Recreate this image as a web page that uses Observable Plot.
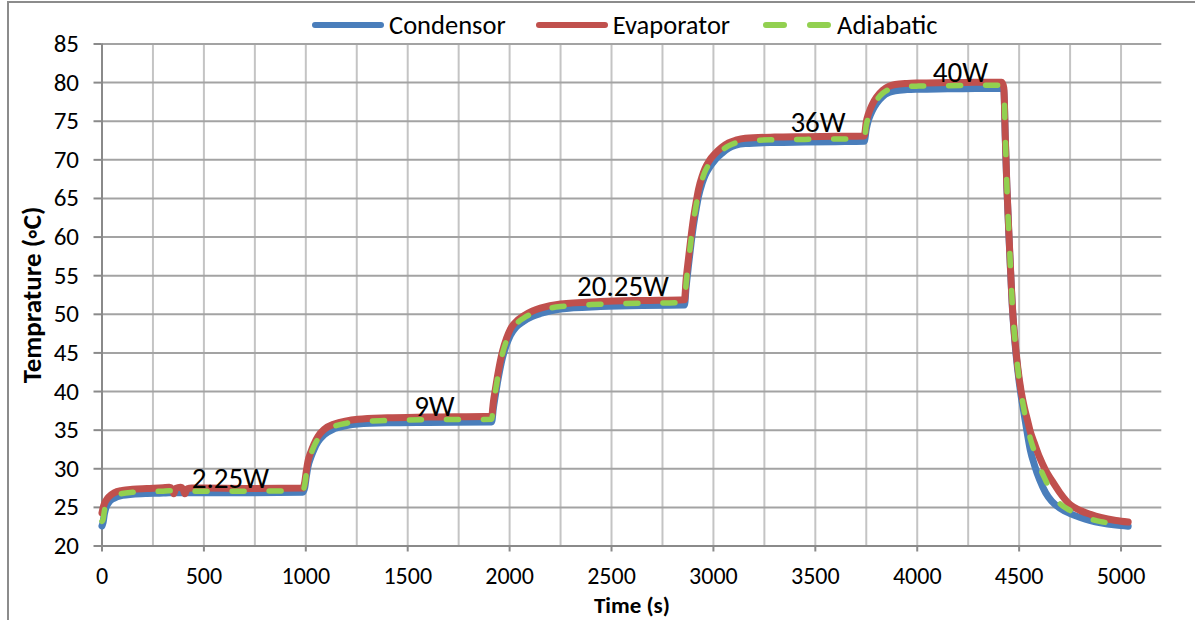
<!DOCTYPE html>
<html><head><meta charset="utf-8">
<script src="https://cdn.jsdelivr.net/npm/d3@7"></script>
<script src="https://cdn.jsdelivr.net/npm/@observablehq/plot@0.6"></script>
<style>
html,body{margin:0;padding:0;background:#fff;width:1195px;height:620px;overflow:hidden;font-family:Carlito,Lato,sans-serif;}
#frame{position:absolute;left:7px;top:1px;width:1300px;height:700px;border:2px solid #8c8c8c;box-sizing:border-box;}
#legend{position:absolute;left:312px;top:12px;height:26px;display:flex;align-items:center;font-size:26.5px;color:#000;white-space:nowrap;}
#legend .item{display:flex;align-items:center;margin-right:30px;}
#legend svg{margin-right:5px;}
#chart{position:absolute;left:0;top:38px;}
</style></head><body>
<div id="frame"></div>
<div id="legend"></div>
<div id="chart"></div>
<script>
// ---- data ----
const seriesNames = ["Condensor", "Evaporator", "Adiabatic"];
const seriesColors = ["#4a7ebb", "#c0504d", "#92d050"];

const time = [
  0, 5, 12, 20, 35, 60, 100, 150, 220, 300, 330, 345, 352, 362, 385, 398, 406, 418, 440, 500, 700, 985,
  995, 1002, 1010, 1025, 1040, 1060, 1090, 1140, 1200, 1255, 1400, 1600, 1912,
  1920, 1930, 1940, 1965, 1985, 2004, 2030, 2068, 2110, 2151, 2250, 2445, 2650, 2858,
  2866, 2878, 2890, 2902, 2915, 2927, 2945, 2959, 2980, 3008, 3040, 3074, 3110, 3156, 3300, 3450, 3600, 3740,
  3750, 3760, 3770, 3780, 3800, 3830, 3860, 3892, 3950, 4008, 4150, 4287, 4415,
  4425, 4432, 4440, 4452, 4468, 4480, 4493, 4510, 4525, 4540, 4555, 4575, 4600, 4630, 4660, 4700, 4750, 4800, 4850, 4900, 4975, 5035
];
const condensor = [
  22.6, 23.0, 24.2, 25.0, 25.7, 26.2, 26.55, 26.7, 26.8, 26.85, 26.9, 26.9, 26.9, 26.9, 26.9, 26.9, 26.9, 26.9, 26.9, 26.9, 26.9, 26.95,
  27.6, 28.9, 30.2, 31.5, 32.5, 33.5, 34.4, 35.2, 35.6, 35.8, 35.95, 36.0, 36.05,
  37.8, 39.5, 41.1, 44.4, 46.1, 47.3, 48.3, 49.1, 49.7, 50.1, 50.7, 51.0, 51.15, 51.2,
  53.5, 56.4, 59.1, 61.5, 63.6, 65.3, 67.0, 68.0, 69.0, 70.0, 70.8, 71.5, 71.9, 72.1, 72.25, 72.3, 72.35, 72.4,
  74.0, 75.1, 75.8, 76.4, 77.3, 78.2, 78.7, 78.95, 79.1, 79.15, 79.2, 79.25, 79.25,
  79.0, 72.8, 66.3, 59.0, 50.4, 46.2, 42.8, 39.4, 37.0, 34.6, 32.4, 30.5, 28.6, 26.9, 25.8, 24.9, 24.2, 23.7, 23.3, 23.0, 22.7, 22.55
];
const evaporator = [
  24.3, 24.9, 25.5, 25.9, 26.4, 26.9, 27.2, 27.35, 27.45, 27.55, 27.6, 27.35, 26.75, 27.45, 27.6, 27.35, 26.75, 27.4, 27.5, 27.5, 27.45, 27.5,
  28.3, 29.6, 30.9, 32.2, 33.2, 34.2, 35.1, 35.8, 36.2, 36.4, 36.6, 36.7, 36.8,
  38.6, 40.3, 41.9, 45.2, 46.9, 48.1, 49.0, 49.8, 50.4, 50.8, 51.35, 51.65, 51.8, 51.9,
  54.5, 57.3, 60.0, 62.4, 64.5, 66.2, 67.9, 68.9, 69.9, 70.8, 71.6, 72.2, 72.55, 72.8, 72.95, 73.0, 73.05, 73.1,
  74.9, 75.9, 76.6, 77.2, 78.1, 79.0, 79.5, 79.75, 79.9, 79.95, 80.0, 80.05, 80.05,
  79.3, 73.0, 66.5, 59.2, 50.6, 46.5, 43.2, 40.0, 38.0, 36.4, 34.8, 33.3, 31.5, 29.8, 28.5, 26.9, 25.35, 24.6, 24.1, 23.7, 23.3, 23.1
];
const adiabatic = [
  23.2, 23.4, 24.6, 25.3, 26.0, 26.5, 26.8, 26.95, 27.05, 27.1, 27.15, 27.15, 27.15, 27.15, 27.2, 27.2, 27.15, 27.15, 27.1, 27.1, 27.1, 27.15,
  28.0, 29.3, 30.6, 31.9, 32.9, 33.9, 34.8, 35.5, 35.9, 36.1, 36.25, 36.35, 36.4,
  38.3, 40.0, 41.6, 44.9, 46.6, 47.8, 48.7, 49.5, 50.1, 50.5, 51.0, 51.3, 51.45, 51.5,
  54.0, 56.9, 59.6, 62.0, 64.1, 65.8, 67.5, 68.5, 69.5, 70.4, 71.2, 71.8, 72.2, 72.45, 72.6, 72.65, 72.7, 72.75,
  74.5, 75.5, 76.2, 76.8, 77.7, 78.6, 79.1, 79.35, 79.5, 79.55, 79.6, 79.65, 79.65,
  79.2, 73.0, 66.5, 59.2, 50.6, 46.5, 43.1, 39.8, 37.5, 35.6, 33.9, 32.2, 30.3, 28.5, 26.9, 25.5, 24.6, 23.95, 23.5, 23.15, 22.95, 22.9
];

const powerLabels = ["2.25W", "9W", "20.25W", "36W", "40W"];
const labelTime = [630, 1631, 2556, 3513, 4212];
const labelTemp = [28.7, 38.0, 53.6, 74.8, 81.3];

const xTicks = [0, 500, 1000, 1500, 2000, 2500, 3000, 3500, 4000, 4500, 5000];
const xGrid = [250, 500, 750, 1000, 1250, 1500, 1750, 2000, 2250, 2500, 2750, 3000, 3250, 3500, 3750, 4000, 4250, 4500, 4750, 5000];
const yTicks = [20, 25, 30, 35, 40, 45, 50, 55, 60, 65, 70, 75, 80, 85];
const xTitle = "Time (s)";
const yTitle = "Temprature (\u25E6C)";

// ---- tables ----
const valueSets = [condensor, evaporator, adiabatic];
const seriesData = valueSets.map((vals) => time.map((t, i) => ({t, v: vals[i]})));
const labels = powerLabels.map((text, i) => ({text, t: labelTime[i], v: labelTemp[i]}));

// ---- legend ----
const legend = document.getElementById("legend");
seriesNames.forEach((name, i) => {
  const item = document.createElement("div");
  item.className = "item";
  const dashed = i === 2;
  item.innerHTML = `<svg width="72" height="26"><line x1="${dashed ? 6 : 3}" x2="${dashed ? 68 : 69}" y1="13" y2="13" stroke="${seriesColors[i]}" stroke-width="6" stroke-linecap="round" ${dashed ? 'stroke-dasharray="18,26"' : ""}/></svg><span>${name}</span>`;
  legend.appendChild(item);
});

// ---- chart ----
const font = "Carlito, Lato, sans-serif";
const chart = Plot.plot({
  width: 1195,
  height: 582,
  marginLeft: 101.5,
  marginRight: 33.7,
  marginTop: 5.5,
  marginBottom: 74.5,
  style: {fontFamily: font, fontSize: "25px", color: "#000", background: "transparent", overflow: "visible"},
  x: {domain: [0, 5200]},
  y: {domain: [20, 85]},
  marks: [
    Plot.gridX(xGrid, {stroke: "#c4c4c4", strokeOpacity: 1, strokeWidth: 2}),
    Plot.gridY(yTicks, {stroke: "#a3a3a3", strokeOpacity: 1, strokeWidth: 2}),
    Plot.ruleY([20], {stroke: "#8a8a8a", strokeWidth: 2}),
    Plot.ruleX([0], {stroke: "#8a8a8a", strokeWidth: 2}),
    Plot.axisX(xTicks, {tickSize: 6, tickPadding: 15, fontSize: 24, tickFormat: (d) => String(d), stroke: "#8a8a8a", strokeWidth: 2, label: null}),
    Plot.axisY(yTicks, {tickSize: 8, tickPadding: 15, tickFormat: (d) => String(d), stroke: "#8a8a8a", strokeWidth: 2, label: null}),
    Plot.line(seriesData[0], {x: "t", y: "v", stroke: seriesColors[0], strokeWidth: 7, curve: "monotone-x", strokeLinecap: "round", strokeLinejoin: "round"}),
    Plot.line(seriesData[1], {x: "t", y: "v", stroke: seriesColors[1], strokeWidth: 7, curve: "monotone-x", strokeLinecap: "round", strokeLinejoin: "round"}),
    Plot.line(seriesData[2], {x: "t", y: "v", stroke: seriesColors[2], strokeWidth: 5.5, curve: "monotone-x", strokeLinecap: "round", strokeLinejoin: "round", strokeDasharray: "12,25"}),
    Plot.text(labels, {x: "t", y: "v", text: "text", textAnchor: "middle", lineAnchor: "middle", fontSize: 29, fill: "#000"}),
    Plot.text([xTitle], {frameAnchor: "bottom", textAnchor: "middle", dy: 60, lineAnchor: "middle", fontWeight: "bold", fontSize: 23, fill: "#000"}),
    Plot.text([yTitle], {frameAnchor: "left", textAnchor: "middle", dx: -70, rotate: -90, lineAnchor: "middle", fontWeight: "bold", fontSize: 27, fill: "#000"})
  ]
});
document.getElementById("chart").appendChild(chart);
</script></body></html>
